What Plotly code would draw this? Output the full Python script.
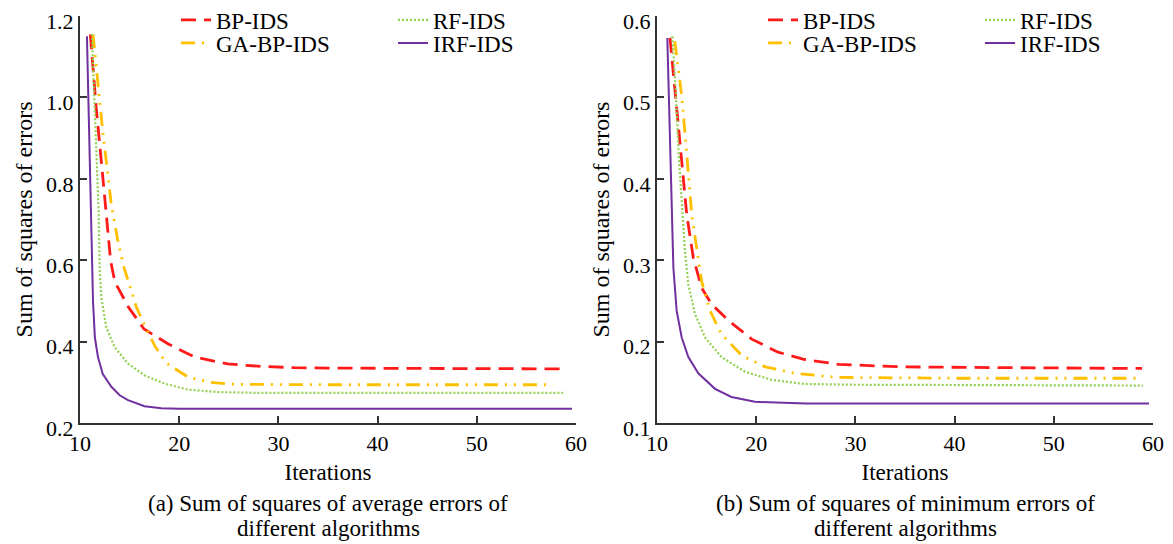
import plotly.graph_objects as go

# ---------------- data ----------------
x_ticks = [10, 20, 30, 40, 50, 60]

# (a) Sum of squares of average errors
a_bp_x = [11.04, 11.65, 12.2, 12.72, 13.09, 13.4, 13.73, 14.9, 16.45, 18.9, 21.56, 24.9, 28.3, 31.6, 35, 45, 58.9]
a_bp_y = [1.155, 0.97, 0.83, 0.695, 0.598, 0.56, 0.537, 0.484, 0.431, 0.394, 0.362, 0.345, 0.339, 0.336, 0.335, 0.334, 0.333]
a_ga_x = [11.31, 12.3, 13.16, 13.8, 14.4, 15.68, 16.6, 17.53, 18.7, 20.9, 23.07, 25.6, 35, 57.7]
a_ga_y = [1.155, 0.915, 0.736, 0.65, 0.585, 0.485, 0.435, 0.39, 0.347, 0.313, 0.30, 0.295, 0.294, 0.294]
a_rf_x = [11.2, 11.55, 11.88, 11.98, 12.15, 12.65, 13.5, 14.84, 16.5, 18.5, 20.9, 23.9, 28, 58.7]
a_rf_y = [1.155, 0.94, 0.72, 0.581, 0.508, 0.435, 0.386, 0.346, 0.317, 0.297, 0.282, 0.276, 0.274, 0.274]
a_irf_x = [10.7, 11.14, 11.31, 11.5, 11.81, 12.3, 13.16, 14.0, 14.84, 16.5, 18.2, 20, 59.6]
a_irf_y = [1.15, 0.70, 0.50, 0.41, 0.362, 0.32, 0.289, 0.268, 0.256, 0.241, 0.236, 0.235, 0.235]

# (b) Sum of squares of minimum errors
b_bp_x = [11.31, 11.88, 12.2, 13.0, 13.66, 14.5, 15.5, 17.19, 19.55, 22.2, 24.9, 28.3, 31.6, 34.7, 45, 58.9]
b_bp_y = [0.573, 0.505, 0.459, 0.356, 0.303, 0.266, 0.246, 0.226, 0.203, 0.187, 0.178, 0.172, 0.170, 0.169, 0.168, 0.167]
b_ga_x = [11.8, 12.49, 12.9, 13.5, 14.0, 14.5, 15.34, 16.5, 18.54, 20.9, 23.9, 28.3, 40, 58.4]
b_ga_y = [0.569, 0.502, 0.445, 0.356, 0.315, 0.274, 0.238, 0.209, 0.183, 0.169, 0.161, 0.156, 0.155, 0.155]
b_rf_x = [11.55, 11.88, 12.15, 12.55, 12.82, 13.16, 13.83, 14.84, 16.5, 18.87, 21.56, 24.9, 29.96, 59]
b_rf_y = [0.575, 0.510, 0.437, 0.36, 0.311, 0.270, 0.234, 0.205, 0.181, 0.163, 0.153, 0.148, 0.147, 0.146]
b_irf_x = [11.04, 11.45, 11.65, 11.98, 12.49, 13.16, 14.16, 15.85, 17.5, 19.88, 25, 59.6]
b_irf_y = [0.573, 0.36, 0.291, 0.238, 0.205, 0.181, 0.161, 0.142, 0.132, 0.126, 0.124, 0.124]

names = ["BP-IDS", "GA-BP-IDS", "RF-IDS", "IRF-IDS"]
caption_a = ["(a) Sum of squares of average errors of", "different algorithms"]
caption_b = ["(b) Sum of squares of minimum errors of", "different algorithms"]

# ---------------- styles ----------------
PAGE_W, PAGE_H = 1173, 544
OFF = 8  # default page body margin (figure starts 8px in)
W, H = PAGE_W - OFF, PAGE_H - OFF
FONT = "Liberation Serif, Times New Roman, serif"
styles = {
    "BP-IDS": dict(color="#FF1A1A", width=2.8, dash="15px,8px"),
    "GA-BP-IDS": dict(color="#FFC000", width=2.8, dash="14px,7px,2px,7px,2px,7px"),
    "RF-IDS": dict(color="#92D050", width=2.2, dash="2px,2px"),
    "IRF-IDS": dict(color="#7030A0", width=2.0, dash="solid"),
}

def px_x(p):
    return (p - OFF) / W

def px_y(p):
    return 1 - (p - OFF) / H

fig = go.Figure()

series_a = [(a_bp_x, a_bp_y), (a_ga_x, a_ga_y), (a_rf_x, a_rf_y), (a_irf_x, a_irf_y)]
series_b = [(b_bp_x, b_bp_y), (b_ga_x, b_ga_y), (b_rf_x, b_rf_y), (b_irf_x, b_irf_y)]
legends_a = ["legend", "legend2", "legend3", "legend4"]
legends_b = ["legend5", "legend6", "legend7", "legend8"]

for (xs, ys), nm, lg in zip(series_a, names, legends_a):
    fig.add_trace(go.Scatter(x=xs, y=ys, mode="lines", name=nm, line=styles[nm],
                             xaxis="x", yaxis="y", legend=lg, showlegend=True))
for (xs, ys), nm, lg in zip(series_b, names, legends_b):
    fig.add_trace(go.Scatter(x=xs, y=ys, mode="lines", name=nm, line=styles[nm],
                             xaxis="x2", yaxis="y2", legend=lg, showlegend=True))

axis_common = dict(
    showline=True, linecolor="#333", linewidth=2, ticks="inside", ticklen=7,
    tickwidth=2, tickcolor="#333", showgrid=False, zeroline=False, automargin=False,
    ticklabeloverflow="allow",
    tickfont=dict(family=FONT, size=22, color="black"),
)
xtitle = dict(text="Iterations", standoff=8, font=dict(family=FONT, size=23))
ytitle = dict(text="Sum of squares of errors", standoff=7, font=dict(family=FONT, size=24))

ydom = [px_y(423), px_y(16)]
fig.update_layout(
    width=W, height=H,
    margin=dict(l=0, r=0, t=0, b=0, autoexpand=False),
    showlegend=True,
    paper_bgcolor="white", plot_bgcolor="white",
    font=dict(family=FONT, size=23, color="black"),
    xaxis=dict(domain=[px_x(80), px_x(576)], range=[10, 60], tickvals=x_ticks,
               anchor="y", title=xtitle, ticklabelstandoff=0, **axis_common),
    yaxis=dict(domain=ydom, range=[0.2, 1.2], dtick=0.2, tickformat=".1f",
               anchor="x", title=ytitle, ticklabelshift=5, **axis_common),
    xaxis2=dict(domain=[px_x(657), px_x(1153)], range=[10, 60], tickvals=x_ticks,
                anchor="y2", title=xtitle, ticklabelstandoff=0, **axis_common),
    yaxis2=dict(domain=ydom, range=[0.1, 0.6], dtick=0.1, tickformat=".1f",
                anchor="x2", title=ytitle, ticklabelshift=5, **axis_common),
)

# legends: one per entry, arranged 2x2 above each plot
leg_font = dict(family=FONT, size=23, color="black")
col_px = [(176, 393), (763, 980)]
row_px = [20, 43]
leg_layout = {}
for k, (c1, c2) in enumerate(col_px):
    keys = legends_a if k == 0 else legends_b
    pos = [(c1, row_px[0]), (c1, row_px[1]), (c2, row_px[0]), (c2, row_px[1])]
    for key, (lx, ly) in zip(keys, pos):
        leg_layout[key] = dict(x=px_x(lx), y=px_y(ly), xanchor="left", yanchor="middle",
                               bgcolor="rgba(0,0,0,0)", font=leg_font, visible=True,
                               borderwidth=0, tracegroupgap=0)
fig.update_layout(**leg_layout)

for cx, lines in ((328, caption_a), (905, caption_b)):
    for line, cy in zip(lines, (503, 528)):
        fig.add_annotation(text=line, x=px_x(cx), y=px_y(cy), xref="paper", yref="paper",
                           showarrow=False, font=dict(family=FONT, size=23, color="black"),
                           xanchor="center", yanchor="middle")

fig.write_html("out.html")
